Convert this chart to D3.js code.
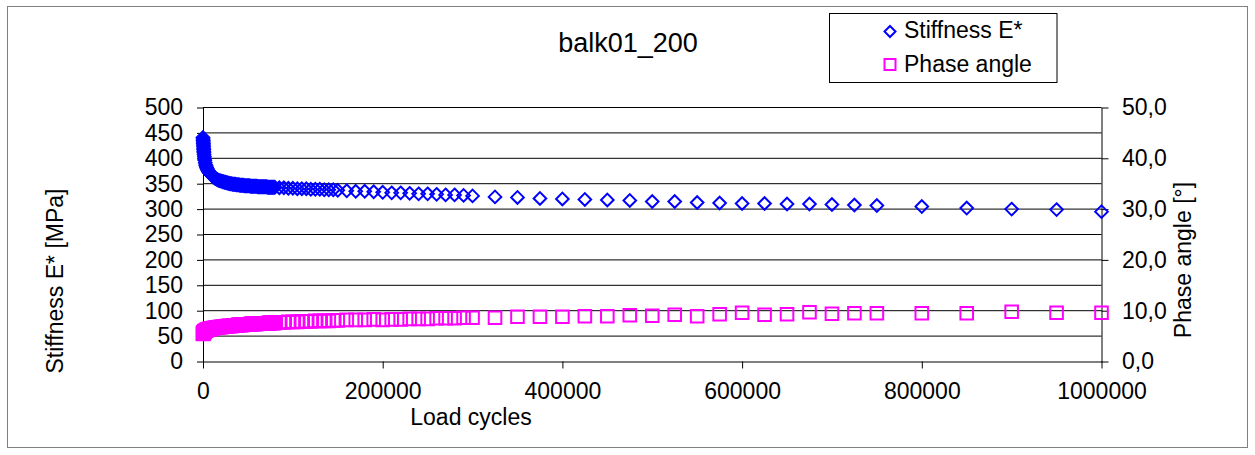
<!DOCTYPE html>
<html>
<head>
<meta charset="utf-8">
<script src="https://cdn.jsdelivr.net/npm/d3@7"></script>
<style>
  body { margin: 0; background: #fff; }
  svg text { font-family: "Liberation Sans", Arial, sans-serif; fill: #000; }
</style>
</head>
<body>
<svg id="chart" width="1255" height="455"></svg>
<script>
// ---- data ----
const chartTitle = "balk01_200";
const seriesNames = ["Stiffness E*", "Phase angle"];
const xTitle = "Load cycles";
const yLeftTitle = "Stiffness E* [MPa]";
const yRightTitle = "Phase angle [°]";

const loadCycles = [
  0, 100, 200, 300, 400, 500, 600, 700, 800, 900, 1000,
  1250, 1500, 1750, 2000,
  2500, 3000, 3500, 4000, 4500, 5000, 5500, 6000, 6500, 7000, 7500, 8000, 8500, 9000, 9500, 10000,
  11000, 12000, 13000, 14000, 15000, 16000, 17000, 18000, 19000, 20000,
  21000, 22000, 23000, 24000, 25000, 26000, 27000, 28000, 29000, 30000,
  31000, 32000, 33000, 34000, 35000, 36000, 37000, 38000, 39000, 40000,
  41000, 42000, 43000, 44000, 45000, 46000, 47000, 48000, 49000, 50000,
  51000, 52000, 53000, 54000, 55000, 56000, 57000, 58000, 59000, 60000,
  61000, 62000, 63000, 64000, 65000, 66000, 67000, 68000, 69000, 70000,
  71000, 72000, 73000, 74000, 75000, 76000, 77000, 78000, 79000, 80000,
  85000, 90000, 95000, 100000, 105000, 110000, 115000, 120000, 125000, 130000, 135000, 140000, 145000, 150000,
  160000, 170000, 180000, 190000, 200000, 210000, 220000, 230000, 240000, 250000, 260000, 270000, 280000, 290000, 300000,
  325000, 350000, 375000, 400000, 425000, 450000, 475000, 500000, 525000, 550000, 575000, 600000,
  625000, 650000, 675000, 700000, 725000, 750000,
  800000, 850000, 900000, 950000, 1000000
];

const stiffness = [
  441, 438, 435, 432, 429, 426, 423, 420, 417, 414, 411,
  407, 403, 399, 396,
  391, 387, 385, 382, 380, 378, 376, 375, 373, 372, 371, 370, 369, 368, 367, 366,
  364, 363, 361, 360, 359, 358, 357, 356, 356, 355,
  355, 354, 354, 353, 353, 352, 352, 351, 351, 350,
  350, 350, 349, 349, 349, 349, 348, 348, 348, 348,
  347, 347, 347, 347, 347, 346, 346, 346, 346, 346,
  346, 346, 345, 345, 345, 345, 345, 345, 345, 345,
  344, 344, 344, 344, 344, 344, 344, 344, 344, 344,
  344, 343, 343, 343, 343, 343, 343, 343, 343, 343,
  342, 342, 341, 341, 340, 340, 340, 339, 339, 339, 338, 338, 338, 337,
  336, 335, 335, 334, 333, 332, 332, 331, 330, 330, 329, 328, 328, 327, 326,
  324, 323, 321, 320, 319, 318, 317, 315, 315, 313, 312, 311,
  311, 310, 310, 309, 308, 307,
  305, 302, 300, 299, 295
];

const phaseAngle = [
  5.5, 5.4, 5.5, 5.5, 5.6, 5.6, 5.6, 5.7, 5.7, 5.7, 5.8,
  5.8, 5.9, 5.9, 6.0,
  6.0, 6.1, 6.1, 6.2, 6.2, 6.3, 6.3, 6.3, 6.4, 6.4, 6.4, 6.4, 6.5, 6.5, 6.5, 6.5,
  6.6, 6.6, 6.6, 6.7, 6.7, 6.7, 6.7, 6.8, 6.8, 6.8,
  6.8, 6.9, 6.9, 6.9, 6.9, 6.9, 7.0, 7.0, 7.0, 7.0,
  7.0, 7.0, 7.1, 7.1, 7.1, 7.1, 7.1, 7.1, 7.2, 7.2,
  7.2, 7.2, 7.2, 7.2, 7.3, 7.3, 7.3, 7.3, 7.3, 7.3,
  7.3, 7.3, 7.4, 7.4, 7.4, 7.4, 7.4, 7.4, 7.4, 7.4,
  7.5, 7.5, 7.5, 7.5, 7.5, 7.5, 7.5, 7.5, 7.5, 7.5,
  7.5, 7.5, 7.6, 7.6, 7.6, 7.6, 7.6, 7.6, 7.6, 7.6,
  7.7, 7.7, 7.8, 7.8, 7.8, 7.9, 7.9, 7.9, 8.0, 8.0, 8.0, 8.0, 8.1, 8.1,
  8.2, 8.2, 8.2, 8.3, 8.2, 8.3, 8.3, 8.4, 8.4, 8.4, 8.5, 8.5, 8.5, 8.6, 8.6,
  8.6, 8.8, 8.8, 8.8, 8.9, 8.9, 9.1, 9.0, 9.2, 8.9, 9.3, 9.6,
  9.2, 9.3, 9.7, 9.4, 9.5, 9.5,
  9.5, 9.5, 9.8, 9.6, 9.6
];

const xTicks = [0, 200000, 400000, 600000, 800000, 1000000];
const leftTicks = [0, 50, 100, 150, 200, 250, 300, 350, 400, 450, 500];
const rightTicks = [0, 10, 20, 30, 40, 50];

// ---- layout ----
const svg = d3.select("#chart");
const plot = { left: 203, right: 1101.5, top: 107.5, bottom: 361.5 };
const blue = "#0000ff", magenta = "#ff00ff";

const x = d3.scaleLinear().domain([0, 1000000]).range([plot.left, plot.right]);
const yL = d3.scaleLinear().domain([0, 500]).range([plot.bottom, plot.top]);
const yR = d3.scaleLinear().domain([0, 50]).range([plot.bottom, plot.top]);

const commaLocale = d3.formatLocale({ decimal: ",", thousands: "", grouping: [3], currency: ["", ""] });
const fmtRight = commaLocale.format(".1f");

// outer frame
svg.append("rect")
  .attr("x", 7.5).attr("y", 6.5).attr("width", 1240).attr("height", 441)
  .attr("fill", "#fff").attr("stroke", "#808080").attr("stroke-width", 1);

// horizontal gridlines
svg.append("g").selectAll("line").data(leftTicks.filter(d => d > 0)).join("line")
  .attr("x1", plot.left).attr("x2", plot.right)
  .attr("y1", d => yL(d)).attr("y2", d => yL(d))
  .attr("stroke", "#000").attr("stroke-width", 1);

// axes
const fontSize = 23;
const gLeft = svg.append("g").attr("transform", `translate(${plot.left},0)`)
  .call(d3.axisLeft(yL).tickValues(leftTicks).tickSize(6).tickSizeOuter(0).tickPadding(14).tickFormat(d3.format("d")));
const gRight = svg.append("g").attr("transform", `translate(${plot.right},0)`)
  .call(d3.axisRight(yR).tickValues(rightTicks).tickSize(7).tickSizeOuter(0).tickPadding(13.5).tickFormat(fmtRight));
const gBottom = svg.append("g").attr("transform", `translate(0,${plot.bottom})`)
  .call(d3.axisBottom(x).tickValues(xTicks).tickSize(7).tickSizeOuter(0).tickPadding(14.2).tickFormat(d3.format("d")));

[gLeft, gRight, gBottom].forEach(g => {
  g.selectAll("path.domain").attr("stroke", "#000").attr("stroke-width", 1);
  g.selectAll(".tick line").attr("stroke", "#000").attr("stroke-width", 1);
  g.selectAll(".tick text").attr("font-size", fontSize).attr("fill", "#000")
    .style("font-family", '"Liberation Sans", Arial, sans-serif');
  g.attr("font-family", null).attr("font-size", null);
});

// axis titles
svg.append("text").attr("x", 471).attr("y", 425)
  .attr("text-anchor", "middle").attr("font-size", fontSize).text(xTitle);
svg.append("text").attr("transform", "translate(55,281) rotate(-90)")
  .attr("text-anchor", "middle").attr("dominant-baseline", "central")
  .attr("font-size", fontSize).text(yLeftTitle);
svg.append("text").attr("transform", "translate(1183,260) rotate(-90)")
  .attr("text-anchor", "middle").attr("dominant-baseline", "central")
  .attr("font-size", fontSize).text(yRightTitle);

// chart title
svg.append("text").attr("x", 628).attr("y", 51.5)
  .attr("text-anchor", "middle").attr("font-size", 27).text(chartTitle);

// marker shapes
const diamond = r => `M0,${-r}L${r},0L0,${r}L${-r},0Z`;
const square = r => `M${-r},${-r}H${r}V${r}H${-r}Z`;

// stiffness markers (left axis)
svg.append("g").selectAll("path").data(loadCycles).join("path")
  .attr("transform", (d, i) => `translate(${x(d)},${yL(stiffness[i])})`)
  .attr("d", diamond(6.3))
  .attr("fill", "none").attr("stroke", blue).attr("stroke-width", 2);

// phase angle markers (right axis)
svg.append("g").selectAll("path").data(loadCycles).join("path")
  .attr("transform", (d, i) => `translate(${x(d)},${yR(phaseAngle[i])})`)
  .attr("d", square(6.3))
  .attr("fill", "none").attr("stroke", magenta).attr("stroke-width", 2);

// legend
const legend = svg.append("g");
legend.append("rect").attr("x", 829.5).attr("y", 13.5).attr("width", 227.5).attr("height", 69)
  .attr("fill", "#fff").attr("stroke", "#000").attr("stroke-width", 1);
const legendRows = [
  { name: seriesNames[0], shape: diamond(5.5), color: blue, cy: 31.5, base: 38.3 },
  { name: seriesNames[1], shape: square(5.5), color: magenta, cy: 64.5, base: 71.7 }
];
legendRows.forEach(r => {
  legend.append("path").attr("transform", `translate(890,${r.cy})`).attr("d", r.shape)
    .attr("fill", "none").attr("stroke", r.color).attr("stroke-width", 2);
  legend.append("text").attr("x", 904).attr("y", r.base).attr("font-size", fontSize).text(r.name);
});
</script>
</body>
</html>
